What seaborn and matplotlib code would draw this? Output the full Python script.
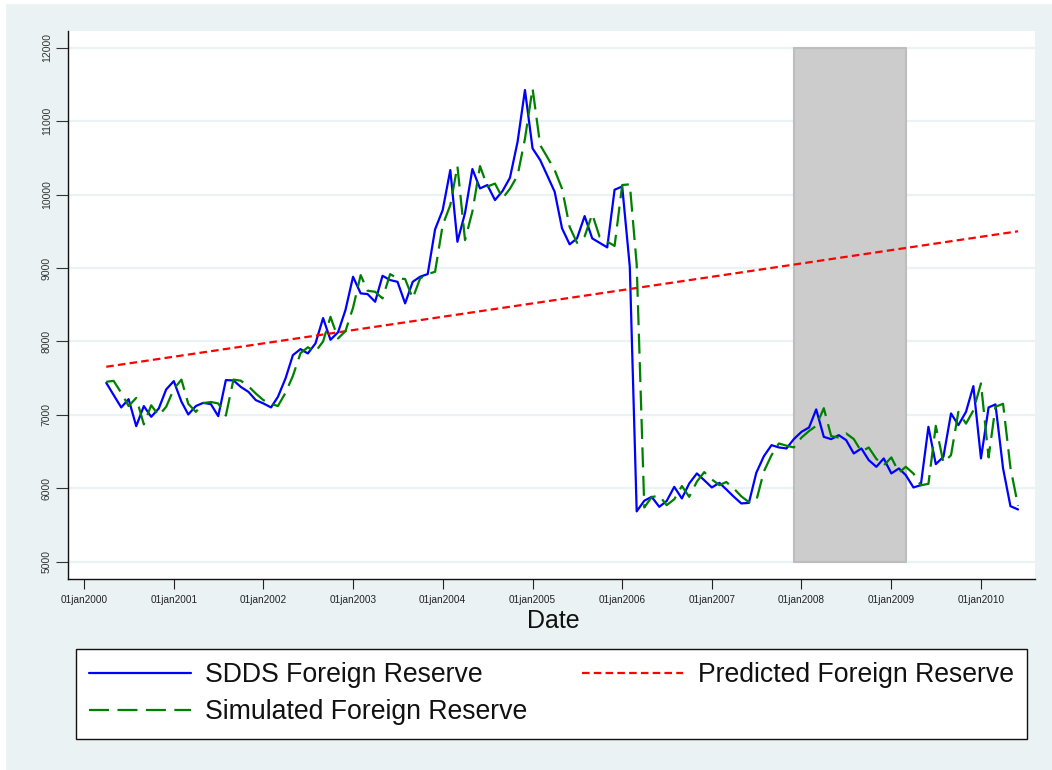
import numpy as np
import pandas as pd
import matplotlib
matplotlib.use("Agg")
import matplotlib.pyplot as plt
import matplotlib.dates as mdates
from matplotlib.lines import Line2D
from matplotlib.patches import Rectangle
import seaborn as sns

# ---------------- data ----------------
dates = pd.date_range("2000-04-01", periods=123, freq="MS")

sdds = [
    7436, 7270, 7101, 7214, 6846, 7119, 6973, 7087, 7346,
    7459, 7180, 7005, 7120, 7163, 7146, 6982, 7473, 7469, 7380, 7313, 7200,
    7155, 7101, 7245, 7496, 7813, 7895, 7836, 7973, 8318, 8022, 8125, 8426,
    8881, 8654, 8645, 8540, 8894, 8835, 8812, 8518, 8812, 8881, 8917, 9526,
    9789, 10334, 9357, 9750, 10348, 10084, 10130, 9925, 10050, 10230, 10719, 11424,
    10629, 10470, 10266, 10038, 9540, 9322, 9403, 9707, 9403, 9343, 9281, 10066,
    10110, 9016, 5685, 5830, 5883, 5747, 5826, 6019, 5861, 6065, 6202, 6110,
    6011, 6074, 5984, 5883, 5793, 5801, 6210, 6437, 6587, 6556, 6542, 6670,
    6768, 6828, 7074, 6700, 6669, 6723, 6655, 6474, 6542, 6383, 6292, 6406,
    6202, 6270, 6178, 6011, 6042, 6837, 6328, 6428, 7019, 6860, 7041, 7391,
    6406, 7101, 7142, 6270, 5756, 5711,
]

simulated = [
    7450, 7463, 7300, 7120, 7230, 6870, 7130, 6990, 7110,
    7350, 7480, 7150, 7040, 7160, 7175, 7155, 6990, 7480, 7465, 7390, 7290,
    7200, 7150, 7120, 7300, 7530, 7840, 7920, 7860, 8000, 8335, 8041, 8140,
    8460, 8903, 8690, 8676, 8586, 8917, 8858, 8850, 8586, 8858, 8917, 8948,
    9585, 9857, 10388, 9380, 9770, 10388, 10110, 10150, 9950, 10080, 10260, 10760,
    11447, 10674, 10515, 10334, 10080, 9560, 9343, 9430, 9734, 9425, 9360, 9300,
    10130, 10140, 9050, 5738, 5880, 5900, 5770, 5850, 6030, 5883, 6090, 6220,
    6120, 6042, 6085, 5995, 5890, 5810, 5830, 6230, 6450, 6610, 6580, 6556,
    6690, 6780, 6850, 7090, 6710, 6690, 6747, 6670, 6500, 6555, 6400, 6310,
    6420, 6215, 6292, 6200, 6040, 6060, 6850, 6350, 6450, 7040, 6880, 7060,
    7428, 6420, 7110, 7150, 6280, 5760,
]

pred_dates = pd.to_datetime(["2000-04-01", "2010-06-01"])
predicted = [7655, 9500]

shade_dates = pd.to_datetime(["2007-12-01", "2009-03-01"])
shade_low = [5000, 5000]
shade_high = [12000, 12000]

xtick_dates = pd.to_datetime([f"{y}-01-01" for y in range(2000, 2011)])
xtick_labels = [f"01jan{y}" for y in range(2000, 2011)]
yticks = [5000, 6000, 7000, 8000, 9000, 10000, 11000, 12000]

labels = ["SDDS Foreign Reserve", "Simulated Foreign Reserve", "Predicted Foreign Reserve"]

# ---------------- style ----------------
BG = "#EAF2F3"
sns.set_theme(style="white")
plt.rcParams["font.family"] = ["Liberation Sans", "DejaVu Sans"]

W, H = 1052, 770
fig = plt.figure(figsize=(W / 100, H / 100), dpi=100, facecolor=BG)
fig.patches.append(Rectangle((0, 0), 5 / W, 1, transform=fig.transFigure, color="white", zorder=-10))
fig.patches.append(Rectangle((0, 1 - 3 / H), 1, 3 / H, transform=fig.transFigure, color="white", zorder=-10))

left, right, top, bottom = 67.7, 1035, 30.7, 579
ax = fig.add_axes([left / W, 1 - bottom / H, (right - left) / W, (bottom - top) / H])
ax.set_facecolor("white")

df = pd.DataFrame({"date": dates, "sdds": sdds, "sim": simulated})
dfp = pd.DataFrame({"date": pred_dates, "pred": predicted})

ax.fill_between(shade_dates, shade_low, shade_high, facecolor="#CCCCCC",
                edgecolor="#BDBDBD", linewidth=1.5, zorder=1)

blue_ls = "-"
red_ls = (0, (3.4, 1.9))
green_ls = (0, (9.0, 3.8))
LW = 1.6

sns.lineplot(data=df, x="date", y="sdds", ax=ax, color="#0000FF", linewidth=LW,
             linestyle=blue_ls, estimator=None, zorder=3)
sns.lineplot(data=dfp, x="date", y="pred", ax=ax, color="#FF0000", linewidth=LW,
             linestyle=red_ls, estimator=None, zorder=3)
sns.lineplot(data=df, x="date", y="sim", ax=ax, color="#008000", linewidth=LW,
             linestyle=green_ls, estimator=None, zorder=4)

ax.set_xlim(pd.Timestamp("1999-10-27"), pd.Timestamp("2010-08-09"))
ax.set_ylim(4764, 12232)

ax.set_yticks(yticks)
ax.set_yticklabels([str(v) for v in yticks], rotation=90, va="center", fontsize=7.5, color="#333333")
ax.set_xticks(xtick_dates)
ax.set_xticklabels(xtick_labels, fontsize=7.2, color="#222222")

ax.yaxis.grid(True, color=BG, linewidth=1.6, zorder=0)
ax.xaxis.grid(False)
ax.set_axisbelow(True)

for s in ["top", "right"]:
    ax.spines[s].set_visible(False)
for s in ["left", "bottom"]:
    ax.spines[s].set_color("#111111")
    ax.spines[s].set_linewidth(1.0)

ax.tick_params(axis="y", direction="out", length=8.4, width=0.8, color="#333333", pad=3, left=True)
ax.tick_params(axis="x", direction="out", length=7.2, width=0.8, color="#222222", pad=4, bottom=True)

ax.set_ylabel("")
ax.set_xlabel("Date", fontsize=18, color="#111111")
ax.xaxis.label.set_va("center")
ax.xaxis.set_label_coords(0.5017, -0.0766)

handles = [
    Line2D([], [], color="#0000FF", linewidth=LW, linestyle=blue_ls),
    Line2D([], [], color="#008000", linewidth=LW, linestyle=green_ls),
    Line2D([], [], color="#FF0000", linewidth=LW, linestyle=red_ls),
]
lx0, lx1, ly0, ly1 = 76, 1027, 649, 737
leg = fig.legend(handles, labels, loc="upper left",
                 bbox_to_anchor=(lx0 / W, 1 - ly1 / H, (lx1 - lx0) / W, (ly1 - ly0) / H),
                 mode="expand", ncol=2, borderaxespad=0, fancybox=False,
                 edgecolor="#111111", framealpha=1, facecolor="white",
                 fontsize=19.2, handlelength=3.8, handletextpad=0.55,
                 labelspacing=0.41, borderpad=0.5, columnspacing=1.5)
leg.get_frame().set_linewidth(1.0)
for t in leg.get_texts():
    t.set_color("#111111")

fig.savefig("out.png", dpi=100, facecolor=fig.get_facecolor())
